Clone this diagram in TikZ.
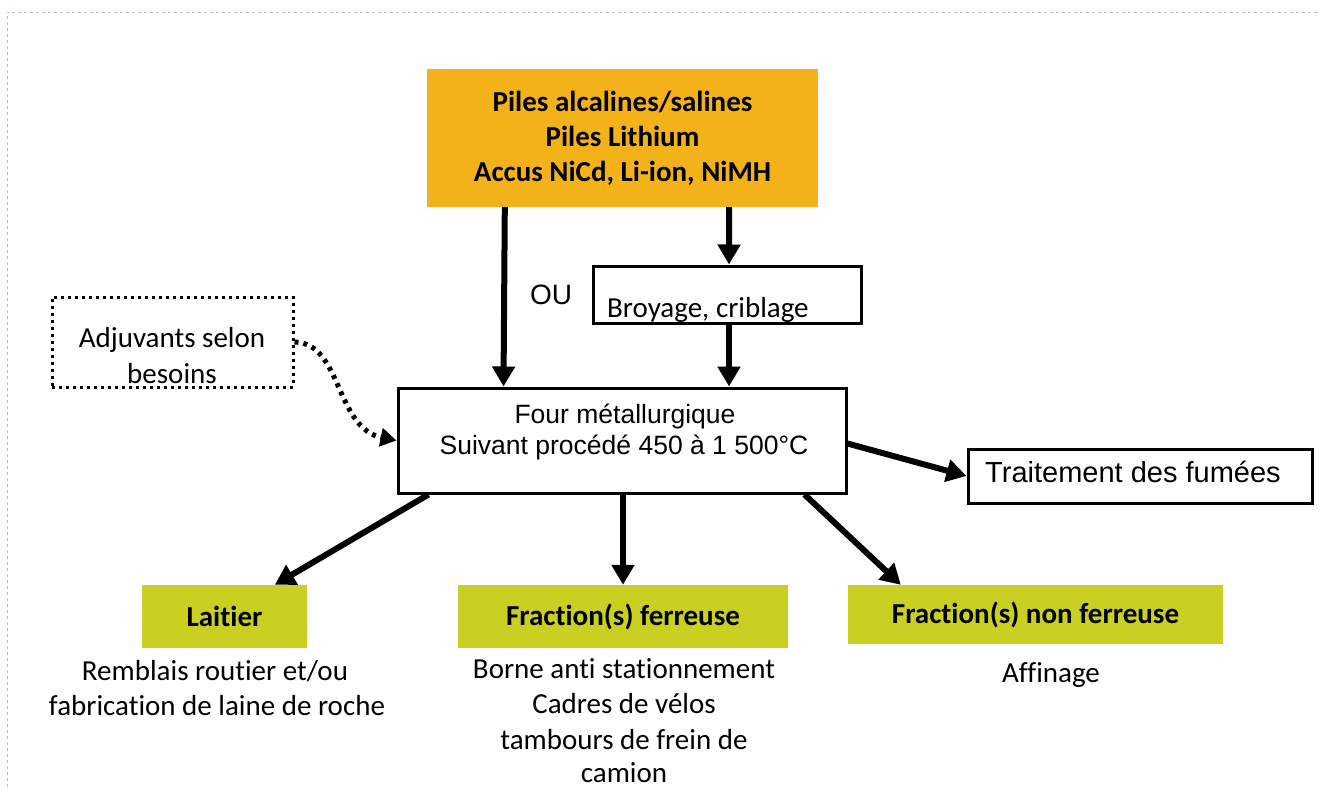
\documentclass[tikz,border=0pt]{standalone}
\usepackage{fontspec}
\setmainfont{Carlito}[Ligatures=CommonOff]
\newfontfamily\arialf{Liberation Sans}
\usetikzlibrary{arrows.meta}
\definecolor{orangebox}{HTML}{F4B21A}
\definecolor{greenbox}{HTML}{C9D022}
\definecolor{bordercol}{HTML}{B8B8E0}
\begin{document}
\begin{tikzpicture}[x=1pt,y=-1pt,
  linebox/.style={draw=black, line width=3pt, rectangle, inner sep=0pt},
  fillbox/.style={rectangle, inner sep=0pt, align=center},
  dotbox/.style={draw=black, line width=3pt, dash pattern=on 3pt off 4pt, rectangle, inner sep=0pt},
  arr/.style={line width=6pt, -{Triangle[length=20pt,width=22pt]}},
  dotarr/.style={line width=5pt, dash pattern=on 4pt off 5pt, -{Triangle[length=16pt,width=18pt]}},
  cal/.style={font=\fontsize{29}{35}\selectfont, inner sep=0pt, anchor=base},
  calb/.style={font=\bfseries\fontsize{29}{35}\selectfont},
  ari/.style={font=\arialf\fontsize{26.5}{31}\selectfont, inner sep=0pt, anchor=base},
]
\useasboundingbox (0,0) rectangle (1319,787);
\draw[bordercol, dashed, line width=1pt] (7,787) -- (7,12) -- (1319,12);

\node[fillbox, fill=orangebox, minimum width=391pt, minimum height=138pt, calb] (src) at (622.5,138)
  {Piles alcalines/salines\\Piles Lithium\\Accus NiCd, Li-ion, NiMH};

\node[linebox, minimum width=268pt, minimum height=57pt] (broy) at (727,294.5) {};
\node[cal, anchor=base west] (broyt) at (607,317) {Broyage, criblage};

\node[inner sep=0pt, anchor=base, font=\arialf\fontsize{28}{32}\selectfont] (ou) at (551,304) {OU};

\node[dotbox, minimum width=241pt, minimum height=90pt] (adj) at (172.5,342) {};
\node[cal] (adj1) at (172,347) {Adjuvants selon};
\node[cal] (adj2) at (172,383) {besoins};

\node[linebox, minimum width=448pt, minimum height=105pt] (four) at (622,440.5) {};
\node[ari] (four1) at (625,423) {Four métallurgique};
\node[ari] (four2) at (624,454) {Suivant procédé 450 à 1 500°C};

\node[linebox, minimum width=344pt, minimum height=54pt] (trait) at (1140,476) {};
\node[inner sep=0pt, anchor=base west, font=\arialf\fontsize{29}{32}\selectfont] (traitt) at (985,482) {Traitement des fumées};

\node[fillbox, fill=greenbox, minimum width=165pt, minimum height=63pt, calb] (lait) at (224.5,616.5) {Laitier};
\node[fillbox, fill=greenbox, minimum width=330pt, minimum height=63pt, calb] (ferr) at (623,616.5) {Fraction(s) ferreuse};
\node[fillbox, fill=greenbox, minimum width=375pt, minimum height=59pt, calb] (nonf) at (1035.5,614.5) {Fraction(s) non ferreuse};

\node[cal] (lait1) at (215,680) {Remblais routier et/ou};
\node[cal] (lait2) at (217,715) {fabrication de laine de roche};
\node[cal] (ferr1) at (624,678) {Borne anti stationnement};
\node[cal] (ferr2) at (624,713) {Cadres de vélos};
\node[cal] (ferr3) at (624,749) {tambours de frein de};
\node[cal] (ferr4) at (624,782) {camion};
\node[cal] (nonf1) at (1051,682) {Affinage};

\draw[arr] ([xshift=78pt]src.south west) -- ([xshift=107pt]four.north west);
\draw[arr] ([xshift=-89pt]src.south east) -- ([xshift=2pt]broy.north);
\draw[arr] ([xshift=2pt]broy.south) -- ([xshift=2pt]broy.south |- four.north);
\draw[dotarr] (adj.east) .. controls (342,343) and (335,428) .. (four.west);
\draw[arr] ([yshift=-3pt]four.east) -- (trait.west);
\draw[arr] ([xshift=32pt]four.south west) -- ([xshift=133pt]lait.north west);
\draw[arr] (ferr.north |- four.south) -- (ferr.north);
\draw[arr] ([xshift=-43pt]four.south east) -- ([xshift=53pt]nonf.north west);
\end{tikzpicture}
\end{document}
